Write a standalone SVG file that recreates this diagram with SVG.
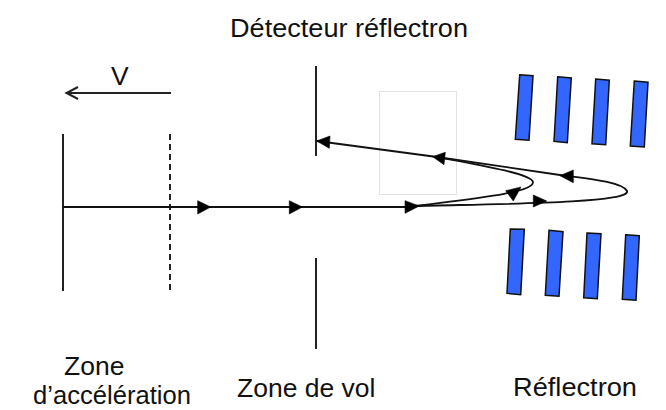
<svg xmlns="http://www.w3.org/2000/svg" width="666" height="410" viewBox="0 0 666 410">
<style>
text{font-family:"Liberation Sans",Arial,sans-serif;font-size:26.500px;fill:#111}
.l{fill:none;stroke:#222;stroke-width:2}
.t{fill:none;stroke:#111;stroke-width:1.8}
.h{fill:#000;stroke:#000;stroke-width:.6}
.b{fill:#3366ff;stroke:#111;stroke-width:1.5}
</style>
<rect width="666" height="410" fill="#fff"/>
<rect x="379.500" y="91.500" width="77" height="103" fill="none" stroke="#e2e2e2" stroke-width="1"/>
<g id="plates">
<line class="l" x1="63" y1="134" x2="63" y2="291"/>
<line class="l" x1="170" y1="134" x2="170" y2="291" stroke-dasharray="6 4"/>
<line class="l" x1="316" y1="66" x2="316" y2="156"/>
<line class="l" x1="316" y1="258" x2="316" y2="349"/>
</g>
<g id="reflectron">
<polygon class="b" points="519.700,74.700 533,75.700 529,140.300 515.300,139.300"/>
<polygon class="b" points="557.700,76.700 571.300,78 567.300,142.700 554,141.300"/>
<polygon class="b" points="595.700,79 609.300,80.300 605.700,144.700 592,143.700"/>
<polygon class="b" points="634.300,81 648,82.300 644.300,147 630.300,146"/>
<polygon class="b" points="510.300,229 524.300,229.300 520.700,294.700 507,293.300"/>
<polygon class="b" points="549,230.300 563,231.700 559,296.300 545.300,295.300"/>
<polygon class="b" points="587,233 601,233.700 597.300,298.700 583.700,297.700"/>
<polygon class="b" points="625.700,234.700 639.300,235.700 636,300.300 622.300,299.300"/>
</g>
<g id="connectors">
<path class="l" d="M171 93H67M78 87L66.500 93L78 99"/>
<path class="t" d="M63 207H415"/>
<path class="t" d="M415 206C470 199 534 193 533 182C532 174 480 165 437 157L317 141"/>
<path class="t" d="M415 206C480 204 632 204 627 191C622 182 590 179 560 175L437 157"/>
<polygon class="h" points="197.700,200.700 197.700,214 210.700,207"/>
<polygon class="h" points="289.300,200.700 289.300,214 302.300,207"/>
<polygon class="h" points="405,200.700 405,213.300 419.300,206"/>
<polygon class="h" points="533.300,195 533.300,207 546.700,201"/>
<polygon class="h" points="505.700,190.700 521,187 513.300,201"/>
<polygon class="h" points="432.700,156.700 445.300,152.300 444,164.700"/>
<polygon class="h" points="560,175.700 573.300,170 573.300,182.700"/>
<polygon class="h" points="316.700,141 330,136 329.300,148.300"/>
</g>
<g id="labels">
<text x="230" y="37" textLength="238" lengthAdjust="spacingAndGlyphs">Détecteur réflectron</text>
<text x="111" y="85">V</text>
<text x="64" y="375">Zone</text>
<text x="33" y="404.300" textLength="158" lengthAdjust="spacingAndGlyphs">d’accélération</text>
<text x="237" y="396.500">Zone de vol</text>
<text x="513" y="396" textLength="124" lengthAdjust="spacingAndGlyphs">Réflectron</text>
</g>
</svg>
